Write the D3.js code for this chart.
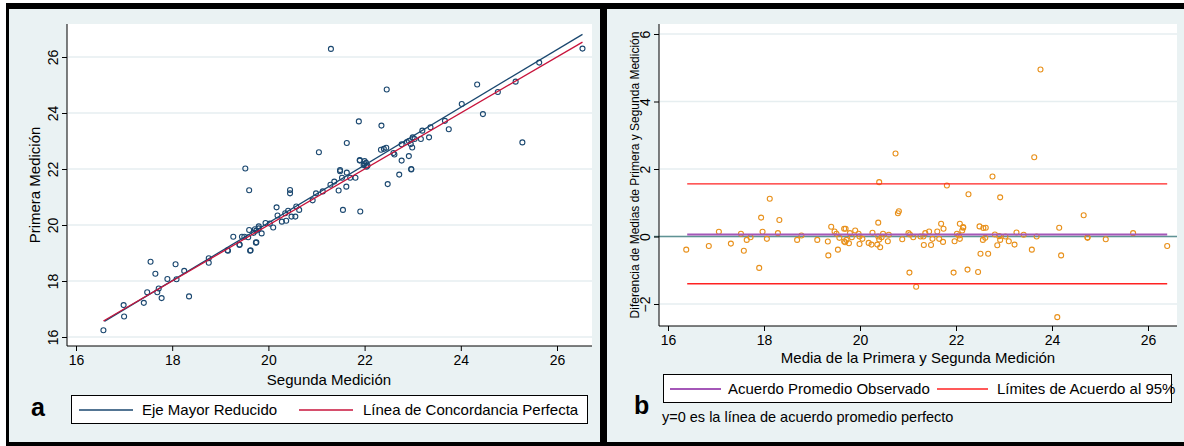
<!DOCTYPE html>
<html><head><meta charset="utf-8">
<script src="https://cdn.jsdelivr.net/npm/d3@7"></script>
<style>html,body{margin:0;padding:0;background:#fff}svg{display:block;font-family:"Liberation Sans",Arial,sans-serif}</style>
</head><body><svg id="c" width="1184" height="446"></svg>
<script>
// ---------- DATA ----------
// Panel a: Segunda Medición (x) vs Primera Medición (y)
const segunda = [16.57,16.99,17.0,17.41,17.48,17.55,17.65,17.69,17.72,17.78,17.9,18.07,18.09,18.25,18.35,18.76,18.76,19.16,19.4,19.62,19.75,
 21.05,19.52,19.6,20.45,20.45,21.9,22.0,21.49,21.63,21.53,21.70,21.81,21.37,21.29,21.46,21.62,21.55,21.91,22.04,20.99,20.92,21.13,20.64,20.58,20.56,20.48,20.41,20.35,20.37,20.28,20.17,20.19,20.1,20.03,19.94,19.86,19.8,19.8,19.75,19.72,19.69,19.74,19.6,19.58,19.45,19.5,19.4,19.27,19.63,19.15,
 21.3,26.53,25.63,25.14,24.34,24.77,22.46,24.02,24.46,23.67,23.75,21.88,22.35,23.2,23.37,23.34,23.17,23.04,23.0,22.92,22.88,22.77,22.96,22.99,22.45,22.4,22.34,22.6,22.62,22.92,22.77,21.63,25.28,21.9,22.0,22.03,22.06,21.98,22.97,21.49,22.72,22.97,22.48];
const primera = [16.24,17.14,16.73,17.22,17.6,18.69,18.26,17.6,17.73,17.39,18.07,18.6,18.06,18.36,17.45,18.81,18.65,19.08,19.3,19.08,19.38,
 22.6,22.02,21.24,21.25,21.13,22.3,22.28,21.92,21.87,21.69,21.69,21.69,21.55,21.44,21.23,21.37,20.54,20.48,22.08,21.13,20.88,21.2,20.54,20.66,20.30,20.30,20.51,20.42,20.15,20.12,20.63,20.34,19.91,20.05,20.07,19.7,19.88,19.95,19.8,19.85,19.72,19.37,19.82,19.56,19.58,19.58,19.29,19.58,19.1,19.1,
 26.29,26.3,25.8,25.12,25.02,24.75,24.84,24.32,23.96,23.72,23.42,23.7,23.55,23.37,23.49,23.13,23.07,23.07,23.13,23.0,22.96,22.88,22.89,22.77,22.76,22.72,22.69,22.57,22.52,22.46,22.3,22.93,22.95,22.32,22.18,22.22,22.12,22.14,22.0,21.96,21.8,21.98,21.46];
// Reduced major axis line and line of perfect concordance (end points)
const rmaX = [16.59, 26.53], rmaY = [16.56, 26.81];
const perfX = [16.57, 26.53], perfY = [16.57, 26.53];
const ticksA = [16,18,20,22,24,26];

// Panel b: Bland-Altman (media, diferencia)
const media = [20.74,20.40,18.12,17.94,18.32,20.38,20.79,20.81,19.40,
 23.76,23.63,22.76,21.81,22.26,22.92,24.66,21.69,22.08,22.15,22.49,22.62,24.15,21.74,
 17.06,17.52,17.72,17.64,17.97,18.06,18.29,18.78,18.69,19.11,19.33,19.47,19.51,19.57,19.67,19.67,19.54,19.34,16.38,16.85,17.31,17.58,17.90,
 19.70,19.69,19.72,19.77,19.79,19.83,19.90,19.97,19.99,20.05,19.99,20.18,20.24,20.26,20.36,20.42,20.38,20.40,20.45,20.48,20.58,20.60,
 20.88,21.01,21.04,21.11,21.03,21.17,21.26,21.32,21.36,21.33,21.44,21.48,21.51,21.61,21.65,21.73,21.95,21.97,22.02,22.06,22.15,22.13,22.08,22.24,22.46,22.57,22.56,22.61,22.51,22.67,22.81,22.86,22.90,22.92,23.03,23.10,23.22,23.26,23.41,23.58,23.68,24.19,24.11,24.74,24.74,25.12,25.69,26.40];
const diferencia = [2.46,1.61,1.12,0.56,0.49,0.41,0.69,0.75,0.29,
 4.95,2.35,1.78,1.51,1.25,1.16,0.63,0.38,0.38,0.26,0.30,0.26,0.26,0.23,
 0.14,0.08,-0.02,-0.10,0.14,-0.07,0.10,0.03,-0.10,-0.10,-0.15,0.15,0.08,-0.04,0.23,-0.15,-0.39,-0.56,-0.39,-0.28,-0.21,-0.42,-0.93,
 0.23,-0.17,-0.10,-0.20,0.10,-0.02,0.18,0.08,0.0,-0.07,-0.22,-0.19,-0.24,0.11,-0.24,-0.32,0.0,-0.09,-0.02,0.08,-0.14,0.05,
 -0.08,0.10,0.06,-0.02,-1.07,-1.49,0.0,0.0,0.10,-0.25,0.15,-0.25,-0.07,0.15,-0.07,-0.16,-1.07,-0.14,0.08,0.03,0.28,0.18,-0.07,-0.98,-1.05,0.25,-0.10,-0.04,-0.51,-0.51,0.06,-0.26,0.01,-0.10,0.0,-0.14,-0.24,0.12,0.05,-0.39,0.0,-0.56,-2.39,-0.04,-0.02,-0.08,0.10,-0.28];
const meanDiff = 0.06;
const limits = [1.56, -1.40];
const rangeMedia = [16.4, 26.4];
const ticksBx = [16,18,20,22,24,26];
const ticksBy = [-2,0,2,4,6];

// ---------- DRAW ----------
const svg = d3.select("#c");
const BG = "#eaf2f3", GRID = "#e6eef0", NAVY = "#1a476f", CRAN = "#c8143c", ORANGE = "#e8901a", RED = "#ff2222", PURPLE = "#a457b8", TEAL = "#5f9294";

svg.append("rect").attr("x",6).attr("y",3).attr("width",1178).attr("height",443).attr("fill","#000");
svg.append("rect").attr("x",9).attr("y",9).attr("width",591).attr("height",433).attr("fill",BG);
svg.append("rect").attr("x",607).attr("y",9).attr("width",577).attr("height",433).attr("fill",BG);

function panel(o){
  const g = svg.append("g");
  g.append("rect").attr("x",o.px0).attr("y",o.py0).attr("width",o.px1-o.px0).attr("height",o.py1-o.py0).attr("fill","#fff");
  // gridlines
  g.selectAll(".gl").data(o.yt).join("line")
    .attr("x1",o.px0+1).attr("x2",o.px1).attr("y1",d=>o.y(d)).attr("y2",d=>o.y(d))
    .attr("stroke",GRID).attr("stroke-width",1.5);
  return g;
}
function axes(g,o){
  const ya = g.append("g").attr("transform",`translate(${o.px0},0)`)
    .call(d3.axisLeft(o.y).tickValues(o.yt).tickSize(5).tickFormat(d3.format("d")));
  ya.select(".domain").attr("d",`M0,${o.py0}V${o.py1}`).attr("stroke","#000");
  ya.selectAll(".tick line").attr("stroke","#000");
  ya.selectAll(".tick text").attr("transform","rotate(-90)").attr("x",0).attr("y",-9)
    .attr("dy","0").attr("text-anchor","middle").attr("font-size",14).attr("fill","#000")
    .style("font-family","Liberation Sans, Arial");
  const xa = g.append("g").attr("transform",`translate(0,${o.py1})`)
    .call(d3.axisBottom(o.x).tickValues(o.xt).tickSize(5).tickFormat(d3.format("d")));
  xa.select(".domain").attr("d",`M${o.px0},0H${o.px1}`).attr("stroke","#000");
  xa.selectAll(".tick line").attr("stroke","#000");
  xa.selectAll(".tick text").attr("y",9).attr("dy","0.71em").attr("font-size",14).attr("fill","#000")
    .style("font-family","Liberation Sans, Arial");
}

// Panel a
const A = {px0:67,px1:592,py0:24,py1:346,yt:ticksA,xt:ticksA};
A.x = d3.scaleLinear().domain([16,26]).range([76,557]);
A.y = d3.scaleLinear().domain([16,26]).range([337,57]);
const ga = panel(A);
const line = (sx,sy)=>d3.line().x(d=>sx(d[0])).y(d=>sy(d[1]));
ga.append("g").selectAll("circle").data(d3.zip(segunda,primera)).join("circle")
  .attr("cx",d=>A.x(d[0])).attr("cy",d=>A.y(d[1])).attr("r",2.5)
  .attr("fill","none").attr("stroke",NAVY).attr("stroke-width",1.1);
ga.append("path").datum(d3.zip(rmaX,rmaY)).attr("d",line(A.x,A.y)).attr("stroke",NAVY).attr("stroke-width",1.3).attr("fill","none");
ga.append("path").datum(d3.zip(perfX,perfY)).attr("d",line(A.x,A.y)).attr("stroke",CRAN).attr("stroke-width",1.3).attr("fill","none");
axes(ga,A);
ga.append("text").attr("transform","translate(40,185) rotate(-90)").attr("text-anchor","middle").attr("font-size",15).text("Primera Medición");
ga.append("text").attr("x",329).attr("y",385).attr("text-anchor","middle").attr("font-size",15).text("Segunda Medición");
// legend a
ga.append("rect").attr("x",71.5).attr("y",395.5).attr("width",516).attr("height",28).attr("fill","#fff").attr("stroke","#000");
ga.append("line").attr("x1",79).attr("x2",133).attr("y1",410).attr("y2",410).attr("stroke",NAVY).attr("stroke-width",1.3);
ga.append("text").attr("x",142).attr("y",415).attr("font-size",15).text("Eje Mayor Reducido");
ga.append("line").attr("x1",299).attr("x2",353).attr("y1",410).attr("y2",410).attr("stroke",CRAN).attr("stroke-width",1.3);
ga.append("text").attr("x",363).attr("y",415).attr("font-size",15).text("Línea de Concordancia Perfecta");
ga.append("text").attr("x",31).attr("y",416).attr("font-size",25).attr("font-weight","bold").text("a");

// Panel b
const B = {px0:659,px1:1177,py0:24,py1:326,yt:ticksBy,xt:ticksBx};
B.x = d3.scaleLinear().domain([16,26]).range([668,1148]);
B.y = d3.scaleLinear().domain([-2,6]).range([304,34]);
const gb = panel(B);
gb.append("line").attr("x1",B.px0-5).attr("x2",B.px1).attr("y1",B.y(0)).attr("y2",B.y(0)).attr("stroke",TEAL).attr("stroke-width",1.5);
gb.append("g").selectAll("circle").data(d3.zip(media,diferencia)).join("circle")
  .attr("cx",d=>B.x(d[0])).attr("cy",d=>B.y(d[1])).attr("r",2.5)
  .attr("fill","none").attr("stroke",ORANGE).attr("stroke-width",1.1);
gb.append("line").attr("x1",B.x(rangeMedia[0])).attr("x2",B.x(rangeMedia[1])).attr("y1",B.y(meanDiff)).attr("y2",B.y(meanDiff)).attr("stroke",PURPLE).attr("stroke-width",2);
gb.selectAll(".lim").data(limits).join("line")
  .attr("x1",B.x(rangeMedia[0])).attr("x2",B.x(rangeMedia[1])).attr("y1",d=>B.y(d)).attr("y2",d=>B.y(d)).attr("stroke",RED).attr("stroke-width",1.3);
axes(gb,B);
gb.append("text").attr("transform","translate(639,175) rotate(-90)").attr("text-anchor","middle").attr("font-size",12).text("Diferencia de Medias de Primera y Segunda Medición");
gb.append("text").attr("x",918).attr("y",363).attr("text-anchor","middle").attr("font-size",15).text("Media de la Primera y Segunda Medición");
gb.append("rect").attr("x",663.5).attr("y",374.5).attr("width",508).attr("height",28).attr("fill","#fff").attr("stroke","#000");
gb.append("line").attr("x1",670).attr("x2",721).attr("y1",389).attr("y2",389).attr("stroke",PURPLE).attr("stroke-width",2);
gb.append("text").attr("x",728).attr("y",394).attr("font-size",15).text("Acuerdo Promedio Observado");
gb.append("line").attr("x1",937).attr("x2",988).attr("y1",389).attr("y2",389).attr("stroke",RED).attr("stroke-width",1.3);
gb.append("text").attr("x",997).attr("y",394).attr("font-size",15).text("Límites de Acuerdo al 95%");
gb.append("text").attr("x",662).attr("y",422).attr("font-size",14.5).text("y=0 es la línea de acuerdo promedio perfecto");
gb.append("text").attr("x",634).attr("y",414).attr("font-size",25).attr("font-weight","bold").text("b");
</script></body></html>
